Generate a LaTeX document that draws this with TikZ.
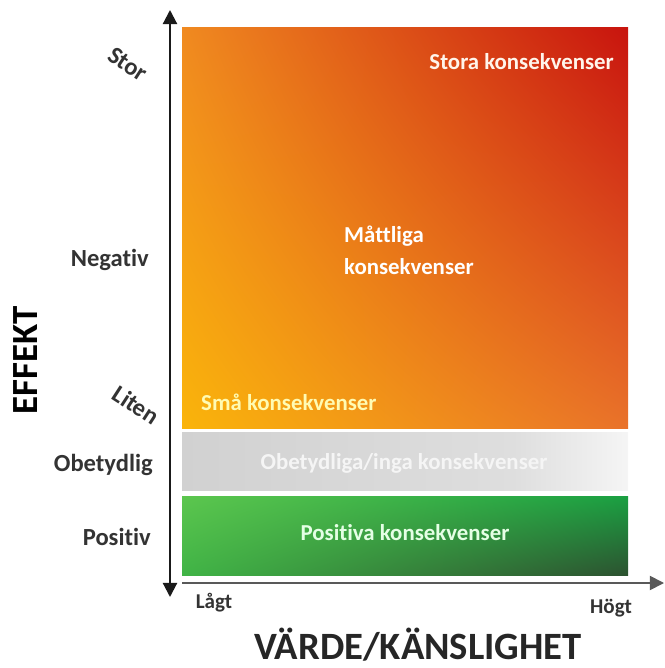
\documentclass[tikz,border=0pt]{standalone}
\usepackage{fontspec}
\setmainfont{Carlito}[Ligatures=NoCommon]
\usepackage{tikz}
\usetikzlibrary{arrows.meta, shadings}

\definecolor{orLL}{HTML}{FAB40A}
\definecolor{orUL}{HTML}{F08A20}
\definecolor{orUR}{HTML}{C8140E}
\definecolor{orLR}{HTML}{E9722A}
\definecolor{grUL}{HTML}{5CC64E}
\definecolor{grLL}{HTML}{40B446}
\definecolor{grUR}{HTML}{1AA042}
\definecolor{grLR}{HTML}{2C5230}
\definecolor{axisgray}{HTML}{1A1A1A}
\pgfdeclarehorizontalshading{grayfade}{100bp}{color(0bp)=(black!18); color(25bp)=(black!18);
  color(62bp)=(black!13); color(75bp)=(white!96!black); color(100bp)=(white!96!black)}

\begin{document}
\begin{tikzpicture}[x=0.02cm, y=-0.02cm,
    axlabel/.style={font=\bfseries\fontsize{14}{16}\selectfont, text=black!80},
    inlabel/.style={font=\bfseries\fontsize{13}{15}\selectfont, text=white},
    axline/.style={line width=1.2pt, draw=axisgray}]
    \useasboundingbox (0,0) rectangle (664,668);

    % coloured fields
    \shade[upper left=orUL, upper right=orUR, lower left=orLL, lower right=orLR]
      (182,28) rectangle (628,428);
    \shade[shading=grayfade] (182,432) rectangle (628,490);
    \shade[upper left=grUL, upper right=grUR, lower left=grLL, lower right=grLR]
      (182,496) rectangle (628,575);

    % axes
    \coordinate (ytop) at (170,10);
    \coordinate (ybot) at (170,597);
    \coordinate (xleft) at (182,583);
    \coordinate (xright) at (664,583);
    \draw[axline, {Triangle[width=8pt,length=8pt]}-{Triangle[width=8pt,length=8pt]}] (ytop)--(ybot);
    \draw[axline, line width=1pt, draw=black!65, -{Triangle[width=8pt,length=8pt]}] (xleft)--(xright);

    % effect labels
    \node[axlabel, rotate=-33] (stor) at (128,64){Stor};
    \node[axlabel, anchor=east] (neg) at (155,260){Negativ};
    \node[axlabel, rotate=-33] (liten) at (136,405){Liten};
    \node[axlabel, anchor=east] (obet) at (159,465){Obetydlig};
    \node[axlabel, anchor=east] (pos) at (157,537){Positiv};
    \node[font=\bfseries\fontsize{21}{24}\selectfont, rotate=90] (effekt) at (26,360){EFFEKT};

    % value labels
    \node[axlabel, font=\bfseries\fontsize{12}{14}\selectfont] (lagt) at (214,603){Lågt};
    \node[axlabel, font=\bfseries\fontsize{12}{14}\selectfont] (hogt) at (611,608){Högt};
    \node[font=\bfseries\fontsize{22}{26}\selectfont, text=black!85] (varde) at (418,645){VÄRDE/KÄNSLIGHET};

    % consequence labels
    \node[inlabel, text=white!92!orange, anchor=east] (stora) at (620,62){Stora konsekvenser};
    \node[inlabel, anchor=west, align=left] (mattl) at (338,250){Måttliga\\[3pt]konsekvenser};
    \node[inlabel, text=yellow!30, anchor=west] (sma) at (195,402){Små konsekvenser};
    \node[inlabel, text=white!96!black] (obetk) at (404,463){Obetydliga/inga konsekvenser};
    \node[inlabel, text=white!90!green] (posk) at (405,533){Positiva konsekvenser};
\end{tikzpicture}
\end{document}
